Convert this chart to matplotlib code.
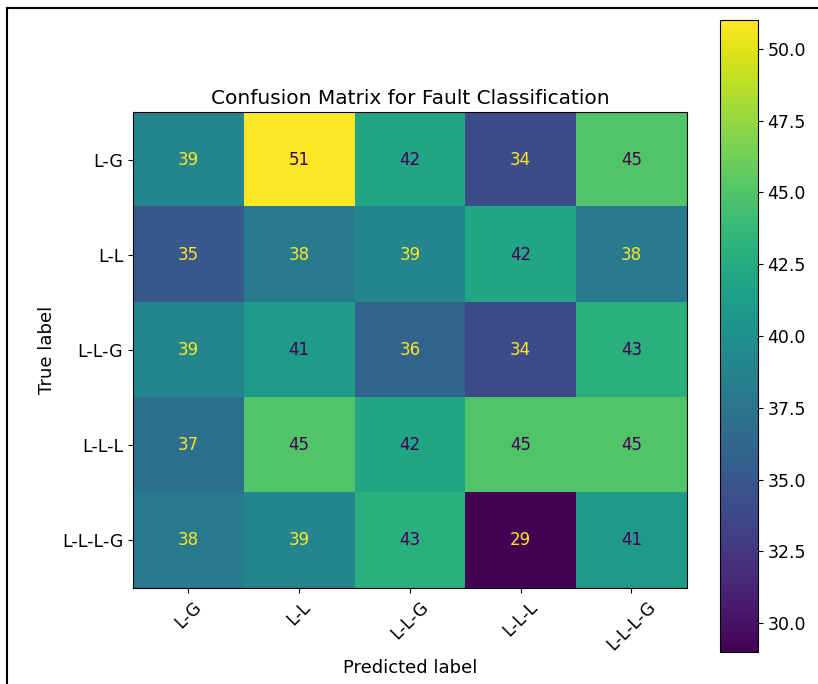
import numpy as np
import matplotlib
matplotlib.use("Agg")
import matplotlib.pyplot as plt
from matplotlib.lines import Line2D

classes = ["L-G", "L-L", "L-L-G", "L-L-L", "L-L-L-G"]
row_LG = [39, 51, 42, 34, 45]
row_LL = [35, 38, 39, 42, 38]
row_LLG = [39, 41, 36, 34, 43]
row_LLL = [37, 45, 42, 45, 45]
row_LLLG = [38, 39, 43, 29, 41]
cm = np.array([row_LG, row_LL, row_LLG, row_LLL, row_LLLG])
cbar_ticks = [30.0, 32.5, 35.0, 37.5, 40.0, 42.5, 45.0, 47.5, 50.0]

fig = plt.figure(figsize=(8.18, 6.84), dpi=100)
ax = fig.add_axes([0.1626, 0.1404, 0.677, 0.696])
cax = fig.add_axes([0.880, 0.0468, 0.0465, 0.924])

cmap = plt.get_cmap("viridis")
im = ax.imshow(cm, cmap=cmap, aspect="auto", interpolation="nearest")
thresh = (cm.max() + cm.min()) / 2.0
cmap_min, cmap_max = cmap(0), cmap(1.0)
n = len(classes)
for i in range(n):
    for j in range(n):
        color = cmap_max if cm[i, j] < thresh else cmap_min
        ax.text(j, i, str(cm[i, j]), ha="center", va="center", color=color, fontsize=12)

ax.set_xticks(range(n))
ax.set_yticks(range(n))
ax.set_xticklabels(classes, rotation=45, fontsize=12.5)
ax.set_yticklabels(classes, fontsize=12.5)
ax.set_xlabel("Predicted label", fontsize=13)
ax.set_ylabel("True label", fontsize=13)
ax.set_title("Confusion Matrix for Fault Classification", fontsize=14.5)

cb = fig.colorbar(im, cax=cax)
cb.set_ticks(cbar_ticks)
cb.ax.tick_params(labelsize=12.5)

# screenshot frame
fig.add_artist(Line2D([0.008, 1.0], [0.988, 0.988], transform=fig.transFigure, color="black", lw=1.5))
fig.add_artist(Line2D([0.008, 0.008], [0.0, 0.988], transform=fig.transFigure, color="black", lw=1.5))

fig.savefig("out.png", dpi=100)
